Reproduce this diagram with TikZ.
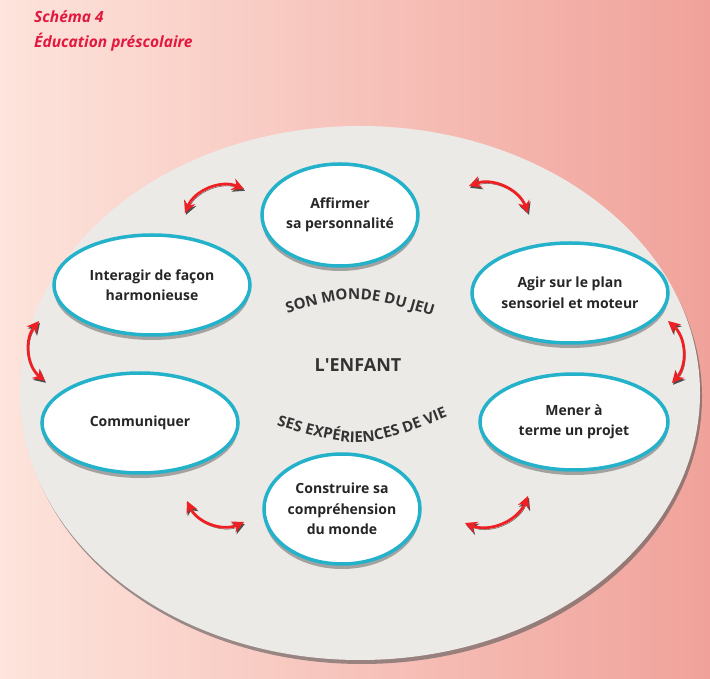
\documentclass[tikz,border=0pt]{standalone}
\usepackage{fontspec}
\setmainfont{Open Sans}
\usetikzlibrary{arrows.meta,positioning,calc,shapes.geometric,shadows,decorations.text}
\definecolor{titlered}{RGB}{226,24,62}
\definecolor{ringcyan}{RGB}{36,178,202}
\definecolor{plategray}{RGB}{236,234,230}
\definecolor{bgleft}{RGB}{253,228,220}
\definecolor{bgright}{RGB}{240,162,154}
\definecolor{arrowred}{RGB}{238,32,36}

\begin{document}
\begin{tikzpicture}[x=1pt, y=1pt, >=Stealth,
  sphere/.style={ellipse, draw=ringcyan, line width=3.5pt, fill=white, inner sep=0pt, align=center,
    font=\fontsize{14}{20.5}\selectfont\bfseries, text=black!85,
    drop shadow={shadow xshift=0pt, shadow yshift=-5pt, opacity=0.45, fill=black!70}},
  linkarrow/.style={line width=2.8pt, draw=arrowred,
    arrows={Stealth[length=12pt,width=12pt]-Stealth[length=12pt,width=12pt]},
    preaction={draw=black!70, transform canvas={shift={(1pt,-1.8pt)}}}},
  arcword/.style={decoration={text along path, text align=center, text color=black!80,
    text={|\fontsize{15}{15}\selectfont\bfseries|#1}}, decorate}]
\useasboundingbox (0,0) rectangle (710,678);
\shade[left color=bgleft, right color=bgright] (0,0) rectangle (710,678);

\node[anchor=north west, inner sep=0pt, align=left, text=titlered,
  font=\fontsize{15.5}{25}\selectfont\bfseries\itshape] (title) at (34,668) {Schéma 4\\Éducation préscolaire};

% le plateau
\node[ellipse, fill=plategray, minimum width=680pt, minimum height=534pt,
  drop shadow={shadow xshift=2pt, shadow yshift=-4pt, opacity=0.6, fill=black!65}] (plate) at (360,285) {};

% les six compétences
\node[sphere, minimum width=156pt, minimum height=102pt] (affirm) at (340,463) {Affirmer\\sa personnalité};
\node[sphere, minimum width=196pt, minimum height=100pt] (inter)  at (152,393) {Interagir de façon\\harmonieuse};
\node[sphere, minimum width=196pt, minimum height=100pt] (agir)   at (570,385) {Agir sur le plan\\sensoriel et moteur};
\node[sphere, minimum width=196pt, minimum height=100pt] (comm)   at (140,255) {Communiquer};
\node[sphere, minimum width=188pt, minimum height=96pt]  (mener)  at (574,256) {Mener à\\terme un projet};
\node[sphere, minimum width=156pt, minimum height=110pt] (constr) at (342,169) {Construire sa\\compréhension\\du monde};

% centre
\node[font=\fontsize{18}{18}\selectfont\bfseries, text=black!80] (child) at (358,313) {L\textquotesingle ENFANT};
\coordinate (jeuL) at (274,361);
\coordinate (jeuC) at (356,385);
\coordinate (jeuR) at (446,358);
\path[arcword={SON MONDE DU JEU}] (jeuL) .. controls (jeuC) .. (jeuR);
\coordinate (vieL) at (262,257);
\coordinate (vieC) at (362,227);
\coordinate (vieR) at (462,267);
\path[arcword={SES EXPÉRIENCES DE VIE}] (vieL) .. controls (vieC) .. (vieR);

% flèches
\coordinate (a1s) at (185,465); \coordinate (a1e) at (244,489);
\coordinate (a2s) at (469,492); \coordinate (a2e) at (528,465);
\coordinate (a3s) at (39,357);  \coordinate (a3e) at (45,297);
\coordinate (a4s) at (668,357); \coordinate (a4e) at (672,295);
\coordinate (a5s) at (187,177); \coordinate (a5e) at (244,156);
\coordinate (a6s) at (465,155); \coordinate (a6e) at (528,182);
\draw[linkarrow] (a1s) to[bend left=45] (a1e);
\draw[linkarrow] (a2s) to[bend left=45] (a2e);
\draw[linkarrow] (a3s) to[bend right=45] (a3e);
\draw[linkarrow] (a4s) to[bend left=45] (a4e);
\draw[linkarrow] (a5s) to[bend right=45] (a5e);
\draw[linkarrow] (a6s) to[bend right=45] (a6e);
\end{tikzpicture}
\end{document}
